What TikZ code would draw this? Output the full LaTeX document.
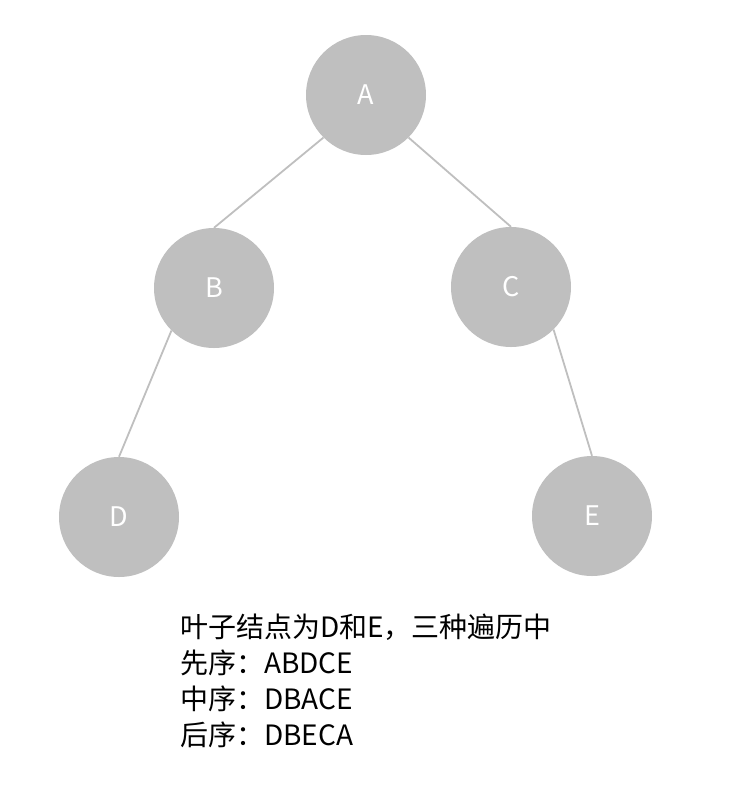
\documentclass[tikz,border=0pt]{standalone}
\usepackage{fontspec}
\setmainfont{Noto Sans CJK SC}
\usetikzlibrary{positioning}

\begin{document}
\begin{tikzpicture}[x=1pt, y=-1pt,
    treenode/.style={circle, fill=black!25, minimum size=120pt, inner sep=0pt,
        text=white, font=\fontsize{27}{30}\selectfont},
    treeedge/.style={draw=black!25, line width=1.8pt}]
    % Canvas
    \useasboundingbox (0,0) rectangle (744,807);

    % Nodes
    \node[treenode] (A) at (366,95) {A};
    \node[treenode] (B) at (214,288) {B};
    \node[treenode] (C) at (511,287) {C};
    \node[treenode] (D) at (119,517) {D};
    \node[treenode] (E) at (592,516) {E};

    % Edges
    \draw[treeedge] (A.south west) -- (B.north);
    \draw[treeedge] (A.south east) -- (C.north);
    \draw[treeedge] (B.south west) -- (D.north);
    \draw[treeedge] (C.south east) -- (E.north);

    % Traversals
    \node[anchor=base west, align=left, inner sep=0pt,
        font=\fontsize{28}{36}\selectfont] (note) at (180,745)
        {叶子结点为D和E，三种遍历中\\先序：ABDCE\\中序：DBACE\\后序：DBECA};
\end{tikzpicture}
\end{document}
